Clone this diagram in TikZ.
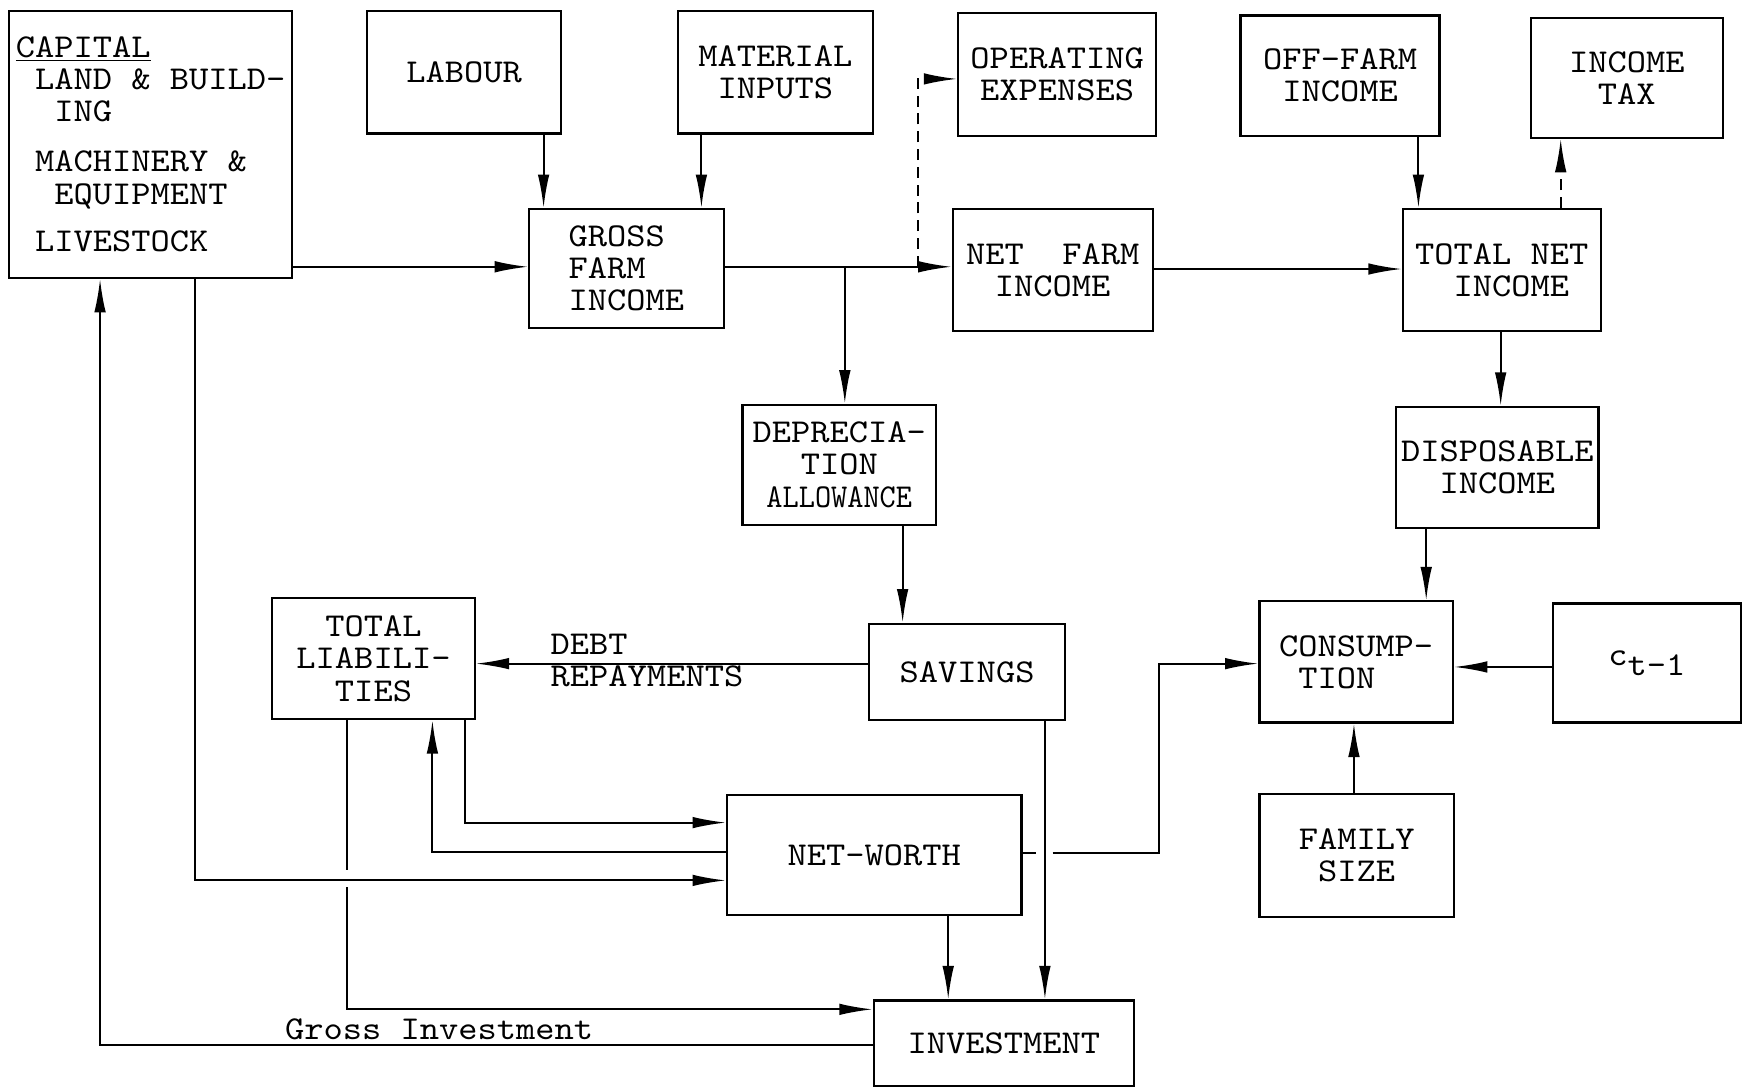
\documentclass[tikz,border=0pt]{standalone}
\usepackage{fontspec}
\setmonofont[FakeStretch=1.1]{lmmono10-regular.otf}
\usepackage{graphicx}
\usetikzlibrary{arrows.meta}
% box: [style] name x1 y1 x2 y2 text
\newcommand\bx[7][]{\node[box,#1,minimum width={(#5-#3)*0.5pt},minimum height={(#6-#4)*0.5pt}] (#2) at ({(#3+#5)/2},{(#4+#6)/2}) {#7};}
\begin{document}
\begin{tikzpicture}[x=0.5pt,y=-0.5pt,
  txt/.style={font=\ttfamily\fontsize{15}{14.5}\selectfont},
  box/.style={draw,line width=1pt,inner sep=0pt,txt,align=center},
  conn/.style={line width=0.9pt},
  arr/.style={conn,-{Latex[length=15pt,width=5.2pt]}},
  darr/.style={arr,dash pattern=on 5pt off 3pt}]
\useasboundingbox (0,0) rectangle (1568,979);

\bx[align=left]{capital}{8}{10}{263}{250}{\underline{CAPITAL}\\~LAND~\&~BUILD-\\~~ING\\[8pt]~MACHINERY~\&\\~~EQUIPMENT\\[7pt]~LIVESTOCK}
\bx{labour}{330}{10}{505}{120}{LABOUR}
\bx{material}{610}{10}{785}{120}{MATERIAL\\INPUTS}
\bx{opex}{862}{12}{1040}{122}{OPERATING\\EXPENSES}
\bx{offfarm}{1116}{14}{1295}{122}{OFF-FARM\\INCOME}
\bx{incometax}{1377}{16}{1550}{124}{INCOME\\TAX}
\bx[align=left]{gross}{476}{188}{651}{295}{GROSS\\FARM\\INCOME}
\bx{netfarm}{857}{188}{1037}{298}{NET~~FARM\\INCOME}
\bx{totalnet}{1262}{188}{1440}{298}{TOTAL~NET\\~INCOME}
\bx{deprec}{668}{364}{842}{472}{DEPRECIA-\\TION\\\scalebox{0.84}[1]{ALLOWANCE}}
\bx{dispos}{1256}{366}{1438}{475}{DISPOSABLE\\INCOME}
\bx{tl}{245}{538}{427}{647}{TOTAL\\LIABILI-\\TIES}
\bx{savings}{782}{561}{958}{648}{SAVINGS}
\bx[align=left]{consum}{1133}{541}{1307}{650}{CONSUMP-\\~TION}
\bx{ct1}{1397}{543}{1566}{650}{c\raisebox{-4.5pt}{t-1}}
\bx{netw}{654}{715}{919}{823}{NET-WORTH}
\bx[align=left]{family}{1133}{714}{1308}{825}{FAMILY\\~SIZE}
\bx{invest}{786}{900}{1020}{977}{INVESTMENT}

\node[txt,align=left,anchor=west,inner sep=0pt] (debt) at (495,594) {DEBT\\REPAYMENTS};
\node[txt,anchor=base,inner sep=0pt] (grossinv) at (395,935) {Gross~Investment};

% x positions
\coordinate (xLab) at (489,0);
\coordinate (xMat) at (631,0);
\coordinate (xDep) at (760,0);
\coordinate (xDash) at (826,0);
\coordinate (xOff) at (1276,0);
\coordinate (xTax) at (1404,0);
\coordinate (xDi1) at (1350,0);
\coordinate (xDi2) at (1283,0);
\coordinate (xFam) at (1218,0);
\coordinate (xDepS) at (812,0);
\coordinate (xSavI) at (940,0);
\coordinate (xNWI) at (853,0);
\coordinate (xNWC) at (1043,0);
\coordinate (xTLN) at (418,0);
\coordinate (xNTL) at (389,0);
\coordinate (xCapN) at (175,0);
\coordinate (xTLI) at (312,0);
\coordinate (xInvC) at (90,0);
% y positions
\coordinate (yG) at (0,240);
\coordinate (yOpex) at (0,71);
\coordinate (yTN) at (0,242);
\coordinate (yCt) at (0,600);
\coordinate (ySav) at (0,597);
\coordinate (yNW1) at (0,740);
\coordinate (yNW2) at (0,766);
\coordinate (yNW3) at (0,792);
\coordinate (yInv1) at (0,908);
\coordinate (yInv2) at (0,940);
\coordinate (yCons) at (0,597);
% gaps
\coordinate (gapA) at (932,767);
\coordinate (gapB) at (947,767);
\coordinate (gapC) at (312,783);
\coordinate (gapD) at (312,798);

\draw[arr] (capital.east |- yG) -- (gross.west |- yG);
\draw[arr] (labour.south -| xLab) -- (gross.north -| xLab);
\draw[arr] (material.south -| xMat) -- (gross.north -| xMat);
\draw[arr] (gross.east |- yG) -- (netfarm.west |- yG);
\draw[arr] (xDep |- yG) -- (deprec.north -| xDep);
\draw[darr] (xDash |- yG) -- (xDash |- yOpex) -- (opex.west |- yOpex);
\draw[arr] (netfarm.east |- yTN) -- (totalnet.west |- yTN);
\draw[arr] (offfarm.south -| xOff) -- (totalnet.north -| xOff);
\draw[darr] (totalnet.north -| xTax) -- (incometax.south -| xTax);
\draw[arr] (totalnet.south -| xDi1) -- (dispos.north -| xDi1);
\draw[arr] (dispos.south -| xDi2) -- (consum.north -| xDi2);
\draw[arr] (ct1.west |- yCt) -- (consum.east |- yCt);
\draw[arr] (family.north -| xFam) -- (consum.south -| xFam);
\draw[arr] (deprec.south -| xDepS) -- (savings.north -| xDepS);
\draw[arr] (savings.west |- ySav) -- (tl.east |- ySav);
\draw[arr] (savings.south -| xSavI) -- (invest.north -| xSavI);
\draw[arr] (netw.south -| xNWI) -- (invest.north -| xNWI);
\draw[conn] (netw.east |- gapA) -- (gapA);
\draw[arr] (gapB) -- (xNWC |- gapB) -- (xNWC |- yCons) -- (consum.west |- yCons);
\draw[arr] (tl.south -| xTLN) -- (xTLN |- yNW1) -- (netw.west |- yNW1);
\draw[arr] (netw.west |- yNW2) -- (xNTL |- yNW2) -- (tl.south -| xNTL);
\draw[arr] (capital.south -| xCapN) -- (xCapN |- yNW3) -- (netw.west |- yNW3);
\draw[conn] (tl.south -| xTLI) -- (gapC);
\draw[arr] (gapD) -- (xTLI |- yInv1) -- (invest.west |- yInv1);
\draw[arr] (invest.west |- yInv2) -- (xInvC |- yInv2) -- (capital.south -| xInvC);
\end{tikzpicture}
\end{document}
